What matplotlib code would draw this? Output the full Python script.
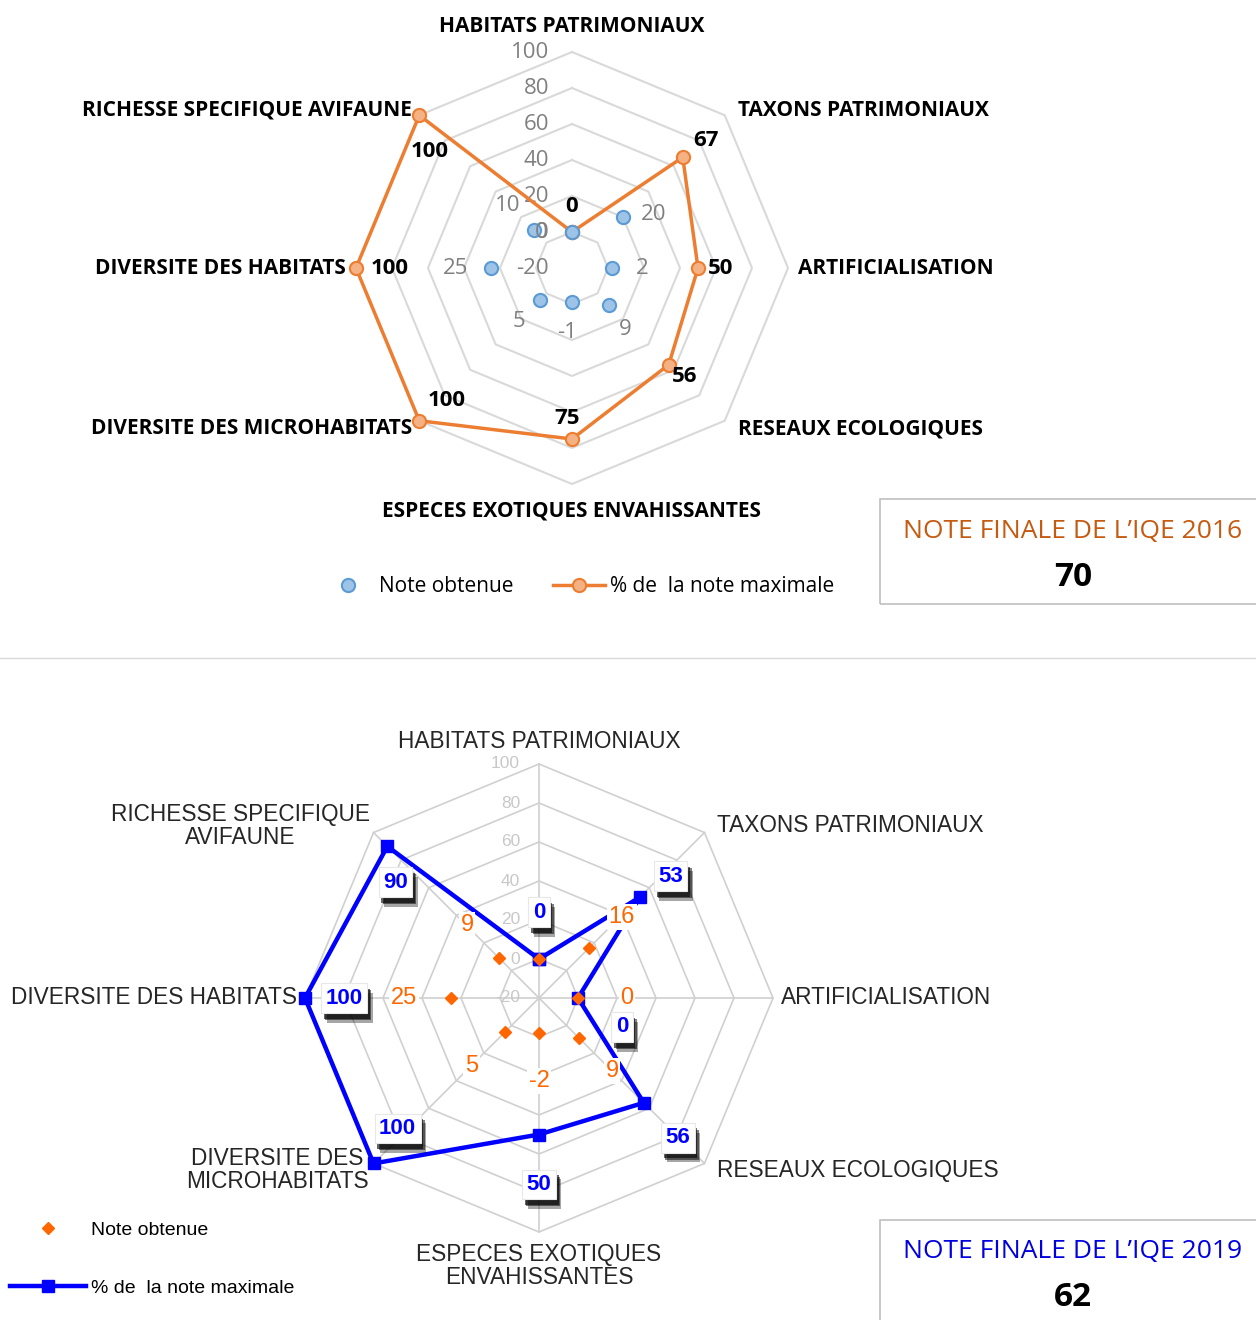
import numpy as np
import matplotlib
matplotlib.use("Agg")
import matplotlib.pyplot as plt
import matplotlib.patheffects as pe
from matplotlib.lines import Line2D
from matplotlib.patches import Rectangle

categories = [
    "HABITATS PATRIMONIAUX",
    "TAXONS PATRIMONIAUX",
    "ARTIFICIALISATION",
    "RESEAUX ECOLOGIQUES",
    "ESPECES EXOTIQUES ENVAHISSANTES",
    "DIVERSITE DES MICROHABITATS",
    "DIVERSITE DES HABITATS",
    "RICHESSE SPECIFIQUE AVIFAUNE",
]
categories_wrapped = [
    "HABITATS PATRIMONIAUX",
    "TAXONS PATRIMONIAUX",
    "ARTIFICIALISATION",
    "RESEAUX ECOLOGIQUES",
    "ESPECES EXOTIQUES\nENVAHISSANTES",
    "DIVERSITE DES\nMICROHABITATS",
    "DIVERSITE DES HABITATS",
    "RICHESSE SPECIFIQUE\nAVIFAUNE",
]

note_2016 = [0, 20, 2, 9, -1, 5, 25, 10]
pct_2016 = [0, 67, 50, 56, 75, 100, 100, 100]
note_2019 = [0, 16, 0, 9, -2, 5, 25, 9]
pct_2019 = [0, 53, 0, 56, 50, 100, 100, 90]
ring_values = [-20, 0, 20, 40, 60, 80, 100]
final_2016 = 70
final_2019 = 62

W, H = 1256, 1320
fig = plt.figure(figsize=(W / 100, H / 100), dpi=100)
fig.patch.set_facecolor("white")


def px(x, y):
    return x / W, 1 - y / H


def radar_axes(cx, cy, rad):
    ax = fig.add_axes([(cx - rad) / W, 1 - (cy + rad) / H, 2 * rad / W, 2 * rad / H],
                      projection="polar")
    ax.set_theta_zero_location("N")
    ax.set_theta_direction(-1)
    ax.set_ylim(ring_values[0], ring_values[-1])
    ax.set_xticks([])
    ax.set_yticks([])
    ax.grid(False)
    ax.spines["polar"].set_visible(False)
    ax.patch.set_alpha(0)
    return ax


theta = np.linspace(0, 2 * np.pi, len(categories), endpoint=False)
closed = np.append(theta, theta[0])


def close(vals):
    return list(vals) + [vals[0]]


# ---------------- 2016 ----------------
TOP = "Open Sans"
ax1 = radar_axes(572, 268, 216)
for v in ring_values[1:]:
    ax1.plot(closed, [v] * len(closed), color="#D9D9D9", lw=1.5, zorder=1, clip_on=False)
for v in ring_values:
    ax1.annotate(str(v), (0, v), xytext=(-23, 0), textcoords="offset pixels",
                 ha="right", va="center", color="#808080", fontsize=16, family=TOP)

pct_line, = ax1.plot(closed, close(pct_2016), color="#ED7D31", lw=2.5, marker="o", ms=9.5,
                     mfc="#F4B183", mec="#ED7D31", mew=1.5, zorder=3, clip_on=False,
                     label="% de  la note maximale")
note_pts, = ax1.plot(theta, note_2016, ls="none", marker="o", ms=9.5, mfc="#9DC3E6",
                     mec="#5B9BD5", mew=1.5, zorder=4, clip_on=False, label="Note obtenue")

pct_off = [(0, -25), (23, -17), (23, 0), (16, 12), (-5, -20), (27, -20), (34, 0), (10, 36)]
note_off = [(-31, 0), (31, -3), (31, 0), (16, 25), (-5, 30), (-21, 22), (-35, 0), (-26, -24)]
for t, v, (dx, dy) in zip(theta, pct_2016, pct_off):
    ax1.annotate(str(v), (t, v), xytext=(dx, -dy), textcoords="offset pixels",
                 ha="center", va="center", fontsize=16, fontweight="bold",
                 family=TOP, color="black", zorder=6)
for t, v, (dx, dy) in zip(theta, note_2016, note_off):
    ax1.annotate(str(v), (t, v), xytext=(dx, -dy), textcoords="offset pixels",
                 ha="center", va="center", fontsize=16, family=TOP, color="#808080", zorder=6)

top_pos = [(572, 27, "center"), (738, 110, "left"), (798, 269, "left"), (738, 429, "left"),
           (572, 511, "center"), (412, 429, "right"), (346, 269, "right"), (412, 110, "right")]
for name, (x, y, ha) in zip(categories, top_pos):
    fig.text(*px(x, y), name, ha=ha, va="center", fontsize=15, fontweight="bold",
             family=TOP, color="black")

fig.legend(handles=[note_pts, pct_line], loc="center", bbox_to_anchor=px(578, 587),
           ncol=2, frameon=False, handlelength=2.5, handletextpad=0.25,
           columnspacing=1.9, prop={"family": TOP, "size": 15})

fig.add_artist(Rectangle(px(880, 604), (1262 - 880) / W, (604 - 499) / H,
                         transform=fig.transFigure, fill=False, ec="#BFBFBF", lw=1.2))
fig.text(*px(1073, 531), "NOTE FINALE DE L’IQE 2016", ha="center", va="center",
         fontsize=19, family=TOP, color="#C55A11")
fig.text(*px(1073, 577), str(final_2016), ha="center", va="center",
         fontsize=24, fontweight="bold", family=TOP, color="black")

fig.add_artist(Line2D([0, 1], [1 - 658 / H] * 2, transform=fig.transFigure,
                      color="#D9D9D9", lw=1))

# ---------------- 2019 ----------------
BOT = "Liberation Sans"
ax2 = radar_axes(539, 998, 234)
for v in ring_values[1:]:
    ax2.plot(closed, [v] * len(closed), color="#D0D0D0", lw=1.2, zorder=1, clip_on=False)
for t in theta:
    ax2.plot([t, t], [ring_values[0], ring_values[-1]], color="#D0D0D0", lw=1.2, zorder=1,
             clip_on=False)
for v in ring_values:
    ax2.annotate(str(v), (0, v), xytext=(-19, 0), textcoords="offset pixels",
                 ha="right", va="center", color="#C8C8C8", fontsize=12.5, family=BOT)

pct_line2, = ax2.plot(closed, close(pct_2019), color="#0000FF", lw=3.2, marker="s", ms=9,
                      mfc="#0000FF", mec="#0000FF", zorder=3, clip_on=False,
                      label="% de  la note maximale")
note_pts2, = ax2.plot(theta, note_2019, ls="none", marker="D", ms=6.5, mfc="#FF6600",
                      mec="#FF6600", zorder=4, clip_on=False, label="Note obtenue")

pct_off2 = [(0, -47), (31, -21), (44, 29), (34, 35), (0, 50), (24, -35), (39, 0), (8, 36)]
note_off2 = [(0, -47), (33, -31), (49, 0), (33, 33), (0, 48), (-33, 34), (-47, 0), (-32, -33)]
for t, v, (dx, dy) in zip(theta, note_2019, note_off2):
    ax2.annotate(str(v), (t, v), xytext=(dx, -dy), textcoords="offset pixels",
                 ha="center", va="center", fontsize=17, family=BOT, color="#FF6600",
                 bbox=dict(boxstyle="square,pad=0.08", fc="white", ec="none"), zorder=5)

# soft drop shadow under the value boxes
shadow = [pe.SimplePatchShadow(offset=o, shadow_rgbFace="black", alpha=a)
          for o, a in [((4, -7), 0.35), ((3, -5), 0.5), ((2, -4), 0.6)]]
for t, v, (dx, dy) in zip(theta, pct_2019, pct_off2):
    a = ax2.annotate(str(v), (t, v), xytext=(dx, -dy), textcoords="offset pixels",
                     ha="center", va="center", fontsize=16, fontweight="bold",
                     family=BOT, color="#0000FF",
                     bbox=dict(boxstyle="square,pad=0.2", fc="white", ec="#E8E8E8", lw=0.8),
                     zorder=7)
    a.get_bbox_patch().set_path_effects(shadow + [pe.Normal()])

bot_pos = [(539, 742, "center"), (717, 826, "left"), (781, 997, "left"), (717, 1170, "left"),
           (539, 1266, "center"), (277, 1170, "center"), (297, 998, "right"),
           (240, 826, "center")]
for name, (x, y, ha) in zip(categories_wrapped, bot_pos):
    fig.text(*px(x, y), name, ha=ha, va="center", multialignment="center",
             fontsize=16.3, family=BOT, color="#262626", linespacing=1.0)

fig.legend(handles=[note_pts2, pct_line2], loc="center left", bbox_to_anchor=px(10, 1259),
           frameon=False, handlelength=3.9, handletextpad=0.25, labelspacing=2.1,
           borderpad=0, borderaxespad=0, prop={"family": BOT, "size": 14})

fig.add_artist(Rectangle(px(880, 1330), (1262 - 880) / W, (1330 - 1220) / H,
                         transform=fig.transFigure, fill=False, ec="#BFBFBF", lw=1.2))
fig.text(*px(1073, 1252), "NOTE FINALE DE L’IQE 2019", ha="center", va="center",
         fontsize=19, family=TOP, color="#0000E0")
fig.text(*px(1073, 1298), str(final_2019), ha="center", va="center",
         fontsize=24, fontweight="bold", family=TOP, color="black")

fig.savefig("out.png", dpi=100)
